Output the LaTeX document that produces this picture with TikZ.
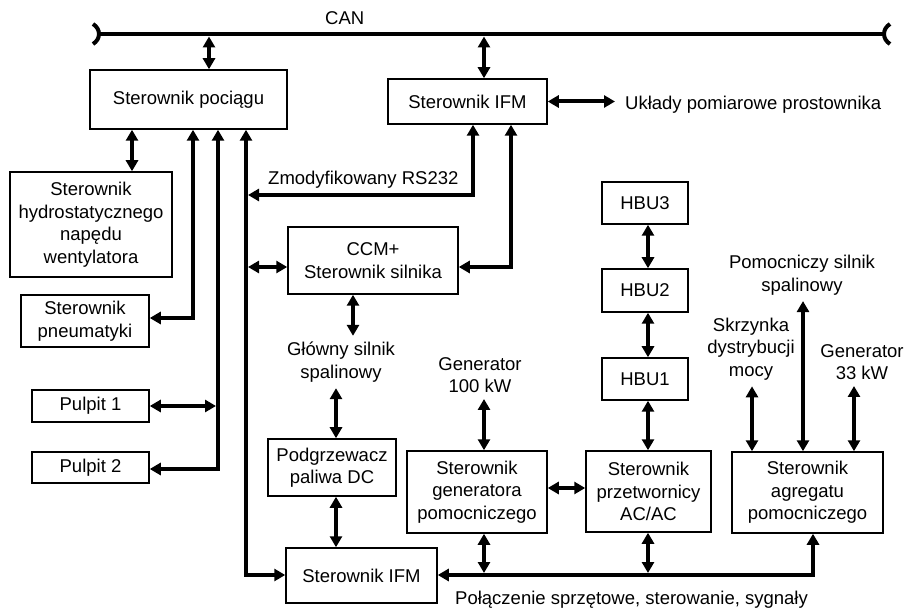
\documentclass[tikz,border=0pt]{standalone}
\usepackage{fontspec}
\setmainfont{Liberation Sans}
\usetikzlibrary{arrows.meta,calc}
\tikzset{
  >={Triangle[length=11pt,width=12pt]},
  blk/.style 2 args={draw, line width=1.5pt, align=center, inner sep=0pt,
    minimum width=#1pt, minimum height=#2pt},
  lbl/.style={align=center, inner xsep=0pt, inner ysep=6pt},
  txt/.style={anchor=base west, inner sep=0pt},
  conn/.style={line width=4pt},
  dbl/.style={conn,<->},
  sgl/.style={conn,->},
}
\begin{document}
\begin{tikzpicture}[x=1pt,y=-1pt,font=\fontsize{18.5}{22.5}\selectfont]
\useasboundingbox (0,0) rectangle (905,609);

% CAN bus
\coordinate (canL) at (99,34);
\coordinate (canR) at (884,34);
\draw[line width=4.6pt] (canL) -- (canR);
\draw[line width=4pt] ($(canL)+(-6,-10)$) .. controls ($(canL)+(2,-5)$) and ($(canL)+(2,5)$) .. ($(canL)+(-6,10)$);
\draw[line width=4pt] ($(canR)+(6,-10)$) .. controls ($(canR)+(-2,-5)$) and ($(canR)+(-2,5)$) .. ($(canR)+(6,10)$);
\node[txt] (can) at (325,25) {CAN};

% boxes
\node[blk={197}{59}] (poc) at (188.5,99.5) {Sterownik pociągu};
\node[blk={159}{45}] (ifm1) at (467.5,101.5) {Sterownik IFM};
\node[blk={162}{105}] (hydro) at (91,224.5) {Sterownik\\hydrostatycznego\\napędu\\wentylatora};
\node[blk={128}{52}] (pneu) at (85,321) {Sterownik\\pneumatyki};
\node[blk={117}{32}] (p1) at (90.5,406) {Pulpit 1};
\node[blk={117}{31}] (p2) at (90.5,467.5) {Pulpit 2};
\node[blk={170}{67}] (ccm) at (373,260.5) {CCM+\\Sterownik silnika};
\node[blk={128}{57}] (podg) at (332,467.5) {Podgrzewacz\\paliwa DC};
\node[blk={151}{55}] (ifm2) at (361.5,575.5) {Sterownik IFM};
\node[blk={140}{82}] (gen) at (477,492) {Sterownik\\generatora\\pomocniczego};
\node[blk={125}{81}] (przet) at (648.5,491.5) {Sterownik\\przetwornicy\\AC/AC};
\node[blk={151}{81}] (agr) at (807.5,492.5) {Sterownik\\agregatu\\pomocniczego};
\node[blk={86}{42}] (hbu3) at (645,203) {HBU3};
\node[blk={86}{43}] (hbu2) at (645,290.5) {HBU2};
\node[blk={86}{42}] (hbu1) at (645,379) {HBU1};

% labels
\node[lbl] (glow) at (341,362) {Główny silnik\\spalinowy};
\node[lbl] (g100) at (480,375) {Generator\\100 kW};
\node[lbl] (pom) at (802,275) {Pomocniczy silnik\\spalinowy};
\node[lbl] (skrz) at (751,349) {Skrzynka\\dystrybucji\\mocy};
\node[lbl] (g33) at (862,362) {Generator\\33 kW};
\node[txt] (uk) at (625,110) {Układy pomiarowe prostownika};
\node[txt] (rs) at (268,185) {Zmodyfikowany RS232};
\node[txt] (pol) at (455,604) {Połączenie sprzętowe, sterowanie, sygnały};

% CAN taps
\coordinate (t1) at (209,36.5);
\draw[dbl] (t1) -- (t1 |- poc.north);
\coordinate (t2) at (484,36.5);
\draw[dbl] (t2) -- (t2 |- ifm1.north);

% lines below Sterownik pociagu
\coordinate (v0) at (132,0);
\draw[dbl] (v0 |- poc.south) -- (v0 |- hydro.north);
\coordinate (v1) at (193,318);
\draw[dbl] (v1 |- poc.south) -- (v1) -- (v1 -| pneu.east);
\coordinate (v2) at (218,469);
\draw[dbl] (v2 |- poc.south) -- (v2) -- (v2 -| p2.east);
\draw[dbl] ($(v2 |- p1.east)+(-2,0)$) -- (p1.east);
\coordinate (v3) at (246,575);
\draw[dbl] (v3 |- poc.south) -- (v3) -- (v3 -| ifm2.west);

% Sterownik IFM (top)
\coordinate (r1) at (473,195);
\draw[dbl] (r1 |- ifm1.south) -- (r1) -- ($(r1 -| v3)+(2,0)$);
\coordinate (r2) at (511,267);
\draw[dbl] (r2 |- ifm1.south) -- (r2) -- (r2 -| ccm.east);
\draw[dbl] ($(r2 -| v3)+(2,0)$) -- (r2 -| ccm.west);
\draw[dbl] (ifm1.east) -- ($(ifm1.east -| uk.west)+(-10,0)$);

% engine chain
\coordinate (m1) at (353,0);
\draw[dbl] (m1 |- ccm.south) -- (m1 |- glow.north);
\coordinate (m2) at (336,0);
\draw[dbl] (m2 |- glow.south) -- (m2 |- podg.north);
\draw[dbl] (m2 |- podg.south) -- (m2 |- ifm2.north);

% bottom bus
\coordinate (bR) at (813,575);
\draw[dbl] (bR -| ifm2.east) -- (bR) -- (bR |- agr.south);

% generator 100 kW
\coordinate (m3) at (484,0);
\draw[dbl] (m3 |- g100.south) -- (m3 |- gen.north);
\draw[dbl] (m3 |- gen.south) -- ($(m3 |- bR)+(0,-2)$);
\coordinate (h1) at (0,488);
\draw[dbl] (h1 -| gen.east) -- (h1 -| przet.west);

% HBU chain
\coordinate (m4) at (648,0);
\draw[dbl] (m4 |- hbu3.south) -- (m4 |- hbu2.north);
\draw[dbl] (m4 |- hbu2.south) -- (m4 |- hbu1.north);
\draw[dbl] (m4 |- hbu1.south) -- (m4 |- przet.north);
\draw[dbl] (m4 |- przet.south) -- ($(m4 |- bR)+(0,-2)$);

% agregat inputs
\coordinate (m5) at (752,0);
\draw[dbl] (m5 |- skrz.south) -- (m5 |- agr.north);
\coordinate (m6) at (803,0);
\draw[dbl] (m6 |- pom.south) -- (m6 |- agr.north);
\coordinate (m7) at (854,0);
\draw[dbl] (m7 |- g33.south) -- (m7 |- agr.north);
\end{tikzpicture}
\end{document}
